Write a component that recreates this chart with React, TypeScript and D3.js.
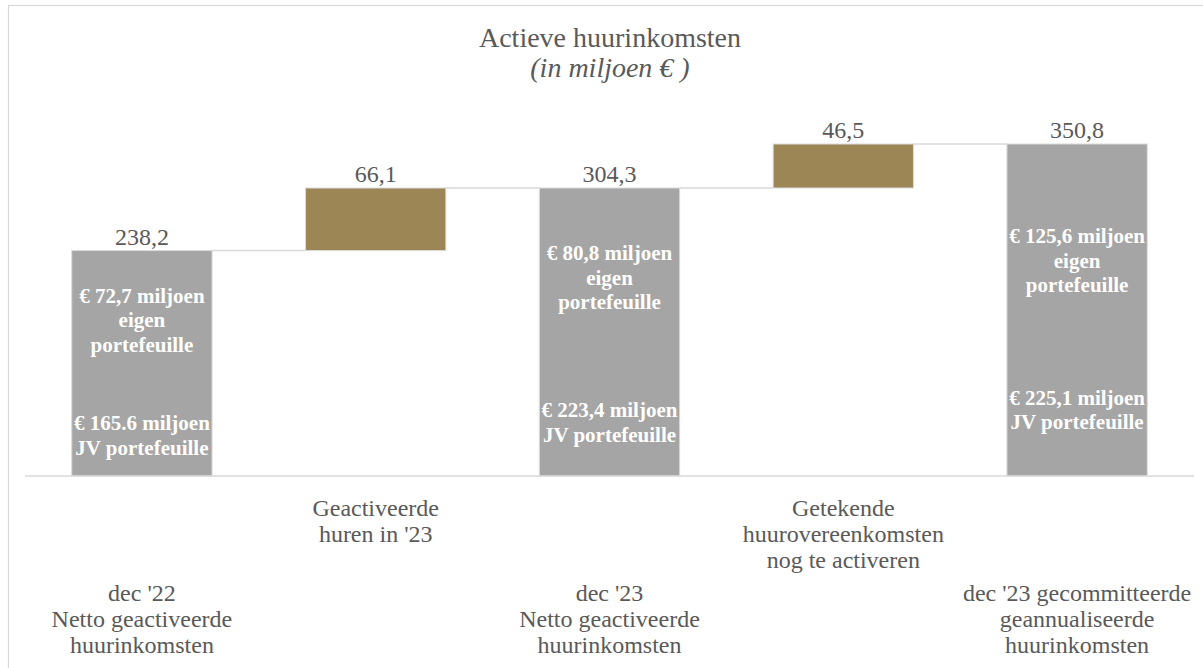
import { useEffect, useRef } from "react";
import * as d3 from "d3";

// category labels (one entry per line)
const categories: string[][] = [
  ["dec '22", "Netto geactiveerde", "huurinkomsten"],
  ["Geactiveerde", "huren in '23"],
  ["dec '23", "Netto geactiveerde", "huurinkomsten"],
  ["Getekende", "huurovereenkomsten", "nog te activeren"],
  ["dec '23 gecommitteerde", "geannualiseerde", "huurinkomsten"],
];
const values = [238.2, 66.1, 304.3, 46.5, 350.8];
const kinds: ("total" | "delta")[] = ["total", "delta", "total", "delta", "total"];
const valueLabels = ["238,2", "66,1", "304,3", "46,5", "350,8"];
const eigenLabels = ["€ 72,7 miljoen", "", "€ 80,8 miljoen", "", "€ 125,6 miljoen"];
const jvLabels = ["€ 165.6 miljoen", "", "€ 223,4 miljoen", "", "€ 225,1 miljoen"];
// where the annotation blocks sit inside the bars, in value units
const eigenAt = [165, 0, 210, 0, 228];
const jvAt = [43, 0, 57, 0, 70];

const W = 1203;
const H = 668;
const FONT = "'Liberation Serif', 'Times New Roman', serif";
const TEXT = "#595959";
const GRAY = "#a5a5a5";
const GOLD = "#9c8656";
const LINE = "#d9d9d9";

export default function App() {
  const svgRef = useRef<SVGSVGElement>(null);

  useEffect(() => {
    if (!svgRef.current) return;
    const svg = d3.select(svgRef.current);
    svg.selectAll("*").remove();

    // outer frame (right/bottom run off the picture)
    svg
      .append("rect")
      .attr("x", 8.5)
      .attr("y", 5.5)
      .attr("width", 1400)
      .attr("height", 900)
      .attr("fill", "#fff")
      .attr("stroke", LINE)
      .attr("stroke-width", 1.2);

    svg
      .append("text")
      .attr("x", 610)
      .attr("y", 47)
      .attr("text-anchor", "middle")
      .style("font-family", FONT)
      .style("font-size", "28px")
      .style("fill", TEXT)
      .text("Actieve huurinkomsten");
    svg
      .append("text")
      .attr("x", 610)
      .attr("y", 77)
      .attr("text-anchor", "middle")
      .style("font-family", FONT)
      .style("font-size", "28px")
      .style("font-style", "italic")
      .style("fill", TEXT)
      .text("(in miljoen € )");

    const x = d3
      .scaleBand<number>()
      .domain(values.map((_, i) => i))
      .range([25, 1194])
      .paddingInner(0.4)
      .paddingOuter(0.2);
    const y = d3.scaleLinear().domain([0, 400]).range([476, 476 - 400 * 0.9464]);

    // waterfall start / end
    let run = 0;
    const steps = values.map((v, i) => {
      const start = kinds[i] === "total" ? 0 : run;
      const end = kinds[i] === "total" ? v : run + v;
      run = end;
      return { i, start, end };
    });

    // connectors
    steps.slice(0, -1).forEach((s) => {
      svg
        .append("line")
        .attr("x1", x(s.i)! + x.bandwidth())
        .attr("x2", x(s.i + 1)!)
        .attr("y1", y(s.end))
        .attr("y2", y(s.end))
        .attr("stroke", LINE)
        .attr("stroke-width", 1.5);
    });

    svg
      .selectAll("rect.bar")
      .data(steps)
      .join("rect")
      .attr("class", "bar")
      .attr("x", (d) => x(d.i)!)
      .attr("width", x.bandwidth())
      .attr("y", (d) => y(d.end))
      .attr("height", (d) => y(d.start) - y(d.end))
      .attr("fill", (d) => (kinds[d.i] === "total" ? GRAY : GOLD))
      .attr("stroke", LINE)
      .attr("stroke-width", 1);

    // axis baseline
    svg
      .append("line")
      .attr("x1", 25)
      .attr("x2", 1194)
      .attr("y1", y(0))
      .attr("y2", y(0))
      .attr("stroke", LINE)
      .attr("stroke-width", 1.5);

    // value labels
    svg
      .selectAll("text.val")
      .data(steps)
      .join("text")
      .attr("class", "val")
      .attr("x", (d) => x(d.i)! + x.bandwidth() / 2)
      .attr("y", (d) => y(d.end) - 6)
      .attr("text-anchor", "middle")
      .style("font-family", FONT)
      .style("font-size", "24px")
      .style("fill", TEXT)
      .text((d) => valueLabels[d.i]);

    // annotations inside the total bars
    const lh = 24.5;
    const block = (cx: number, cy: number, lines: string[]) => {
      const t = svg
        .append("text")
        .attr("text-anchor", "middle")
        .style("font-family", FONT)
        .style("font-size", "21px")
        .style("font-weight", "bold")
        .style("fill", "#fff");
      const off = ((lines.length - 1) * lh) / 2;
      lines.forEach((l, k) => {
        t.append("tspan")
          .attr("x", cx)
          .attr("y", cy - off + k * lh)
          .attr("dy", "0.35em")
          .text(l);
      });
    };
    steps.forEach((s) => {
      if (kinds[s.i] !== "total") return;
      const cx = x(s.i)! + x.bandwidth() / 2;
      block(cx, y(eigenAt[s.i]), [eigenLabels[s.i], "eigen", "portefeuille"]);
      block(cx, y(jvAt[s.i]), [jvLabels[s.i], "JV portefeuille"]);
    });

    // category labels, staggered in two rows
    categories.forEach((lines, i) => {
      const top = kinds[i] === "total" ? 601 : 516;
      const t = svg
        .append("text")
        .attr("text-anchor", "middle")
        .style("font-family", FONT)
        .style("font-size", "24px")
        .style("fill", TEXT);
      lines.forEach((l, k) => {
        t.append("tspan")
          .attr("x", x(i)! + x.bandwidth() / 2)
          .attr("y", top + k * 26)
          .text(l);
      });
    });
  }, []);

  return (
    <svg
      ref={svgRef}
      width={W}
      height={H}
      style={{ position: "absolute", left: 0, top: 0, background: "#fff" }}
    />
  );
}
